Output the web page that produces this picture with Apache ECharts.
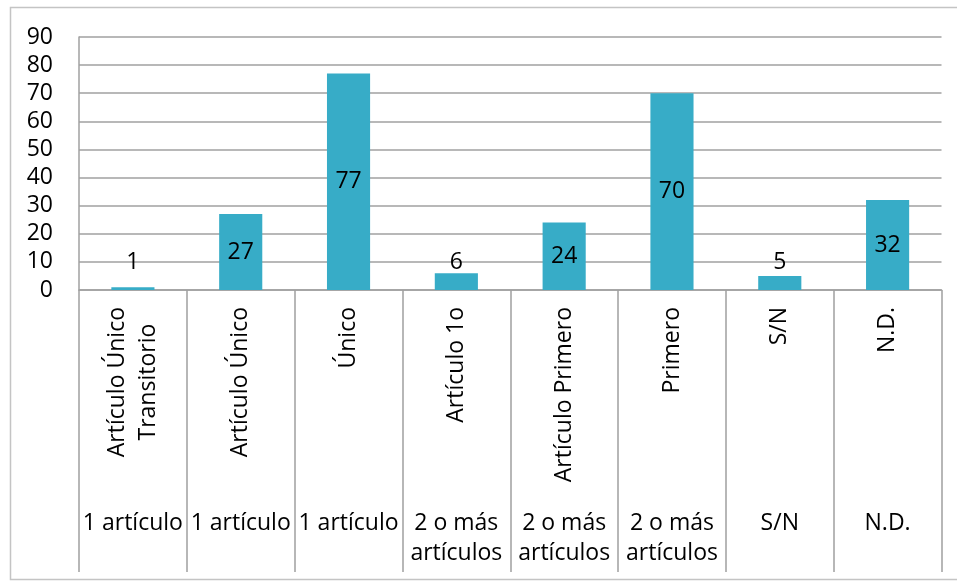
<!DOCTYPE html>
<html><head><meta charset="utf-8">
<script src="https://cdn.jsdelivr.net/npm/echarts@6/dist/echarts.min.js"></script>
<style>html,body{margin:0;padding:0;background:#fff}#c{width:957px;height:582px}</style>
</head><body><div id="c"></div>
<script>
const categories = ['Artículo Único\nTransitorio', 'Artículo Único', 'Único', 'Artículo 1o', 'Artículo Primero', 'Primero', 'S/N', 'N.D.'];
const groups = ['1 artículo', '1 artículo', '1 artículo', '2 o más\nartículos', '2 o más\nartículos', '2 o más\nartículos', 'S/N', 'N.D.'];
const values = [1, 27, 77, 6, 24, 70, 5, 32];
const yMin = 0, yMax = 90, yStep = 10;

const FONT = "'Open Sans', 'Noto Sans', sans-serif";
const FS = 23;
const GRAY = '#a0a0a0';
const BAR = '#37acc7';
const TXT = '#000';

const chart = echarts.init(document.getElementById('c'), null, {renderer: 'canvas'});
const seriesData = values.map(v => ({
  value: v,
  label: v < 10 ? {position: 'insideBottom', distance: 16} : {position: 'inside'}
}));

chart.setOption({
  animation: false,
  textStyle: {fontFamily: FONT},
  graphic: [{
    type: 'rect', silent: true, z: -1,
    shape: {x: 10.5, y: 7.5, width: 980, height: 572},
    style: {fill: 'none', stroke: '#c4c4c4', lineWidth: 1.5}
  }],
  grid: {left: 79, right: 15.5, top: 37, bottom: 292, containLabel: false},
  xAxis: [{
    type: 'category', data: categories, position: 'bottom',
    axisLine: {show: true, lineStyle: {color: GRAY, width: 1.5}},
    axisTick: {show: true, interval: 0, length: 282, lineStyle: {color: GRAY, width: 1.5}},
    axisLabel: {
      interval: 0, rotate: 90, margin: 17,
      formatter: v => v.split('\n').map(s => '{c|' + s + '}').join('\n'),
      rich: {c: {align: 'center', fontSize: FS, fontFamily: FONT, color: TXT, lineHeight: 31}}
    }
  }, {
    type: 'category', data: groups, position: 'bottom',
    axisLine: {show: false}, axisTick: {show: false},
    axisLabel: {interval: 0, margin: 218, fontSize: FS, fontFamily: FONT, color: TXT, lineHeight: 30}
  }],
  yAxis: {
    type: 'value', min: yMin, max: yMax, interval: yStep,
    axisLine: {show: true, lineStyle: {color: GRAY, width: 1.5}},
    axisTick: {show: false},
    splitLine: {show: true, lineStyle: {color: GRAY, width: 1.5}},
    axisLabel: {margin: 26, fontSize: FS, fontFamily: FONT, color: TXT}
  },
  series: [{
    type: 'bar', xAxisIndex: 0, data: seriesData, barWidth: '40%',
    itemStyle: {color: BAR},
    label: {show: true, fontSize: FS, fontFamily: FONT, color: TXT}
  }]
});
</script></body></html>
